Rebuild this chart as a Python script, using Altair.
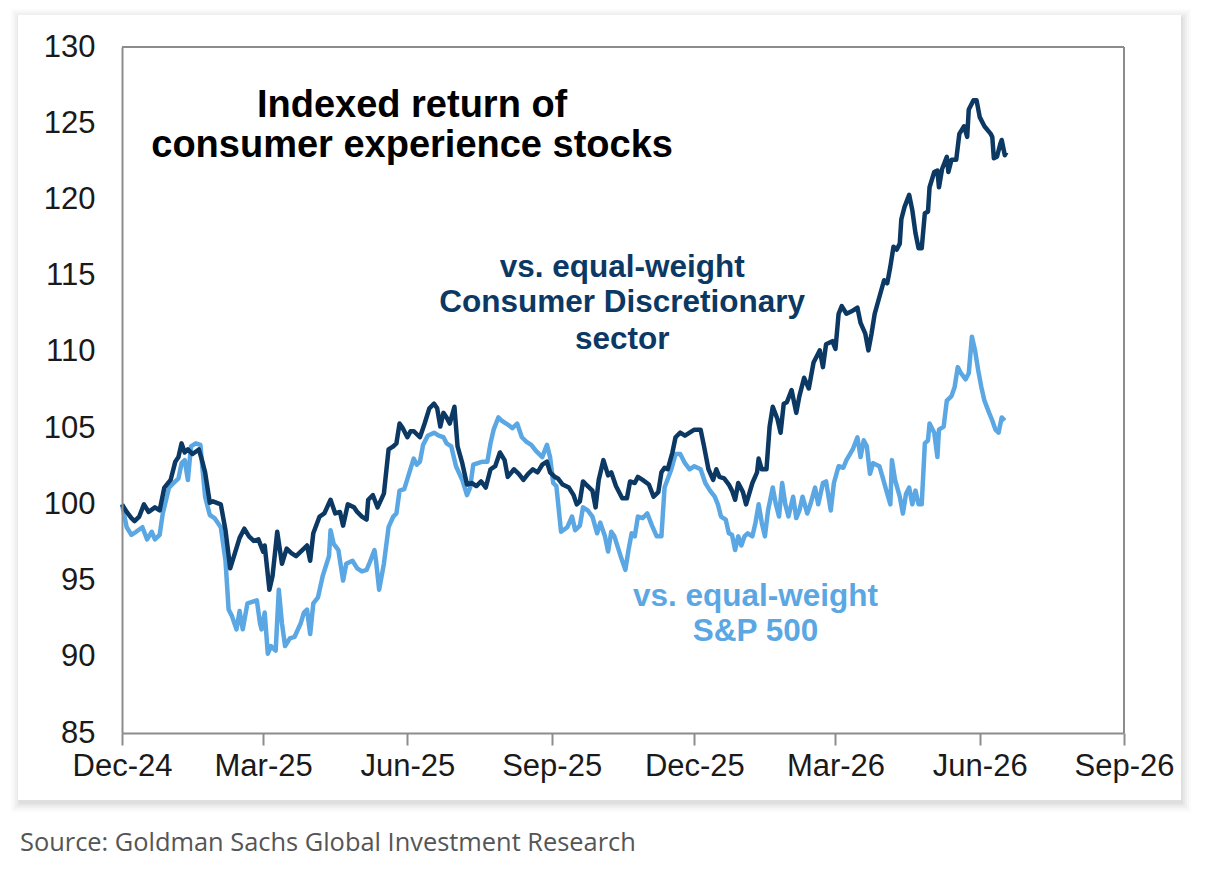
import altair as alt
import pandas as pd

# ---- data (days since 2024-12-01, index value) ----
dark_days = [0,3,6,8,11,14,17,21,24,27,31,34,36,38,40,42,45,49,51,53,56,58,63,66,69,72,75,78,81,84,
             87,90,91,94,96,99,102,105,108,111,115,118,120,122,126,129,133,136,139,141,144,148,150,153,156,157,160,163,167,170,
             173,175,177,179,182,184,186,190,193,196,199,201,203,205,207,209,212,214,217,220,223,226,229,232,235,238,241,244,246,250,
             253,256,259,262,265,268,271,273,276,278,281,285,288,290,292,294,296,300,302,304,307,310,312,315,319,322,324,327,329,332,
             336,339,342,344,346,348,351,353,356,359,362,365,369,371,374,377,379,381,384,387,389,391,393,396,398,402,405,406,408,411,
             413,415,418,420,422,424,427,430,432,435,438,441,443,445,447,449,453,455,457,459,462,466,469,471,474,476,478,480,483,486,
             488,490,492,494,496,497,499,502,504,506,508,510,512,514,515,518,520,521,523,526,527,529,532,534,537,539,540,543,545,547,
             550,554,555,556,558,560,561,563,564]
dark_vals = [100.0,99.5,99.1,98.9,99.2,100.0,99.5,99.8,99.6,101.1,101.6,102.8,103.1,104.0,103.4,103.6,103.3,103.6,102.9,102.1,100.1,100.2,100.0,98.3,95.8,96.8,97.8,98.4,97.9,97.6,
             97.7,96.9,97.3,94.4,95.3,98.2,96.1,97.1,96.8,96.6,97.0,97.3,96.3,98.1,99.2,99.4,100.3,99.4,99.5,98.6,100.0,99.8,99.5,99.2,99.0,100.3,100.6,99.8,100.7,103.6,
             103.8,104.0,105.3,105.0,104.4,104.8,104.8,104.4,105.3,106.3,106.6,106.3,105.1,106.0,105.7,105.3,106.4,103.8,102.7,101.3,101.4,101.2,101.5,101.1,102.3,102.5,103.4,102.9,101.8,102.3,
             102.0,101.6,102.0,102.3,102.1,102.6,102.8,102.1,101.8,101.7,101.3,101.1,100.6,100.0,100.2,101.5,101.3,100.9,99.8,101.6,102.9,101.9,102.1,101.2,100.4,100.4,101.5,101.4,101.8,101.6,
             101.3,100.5,100.8,102.1,102.4,102.3,103.4,104.4,104.7,104.5,104.7,104.9,104.9,103.9,102.3,101.6,102.3,101.8,101.7,101.3,100.9,100.3,101.4,100.8,100.0,101.4,102.1,103.0,102.3,102.3,
             105.1,106.4,105.6,104.7,106.6,106.7,107.5,106.0,107.1,108.3,107.6,109.3,109.7,110.1,109.0,110.5,110.7,110.2,112.5,113.0,112.5,112.7,112.9,111.9,111.2,110.1,111.2,112.5,113.6,114.7,
             114.5,115.6,116.9,116.7,117.1,118.7,119.5,120.3,119.3,117.8,116.8,116.8,119.1,119.2,120.8,121.8,121.9,120.8,122.0,122.8,121.8,122.6,122.6,124.3,124.8,124.1,125.9,126.5,126.5,125.4,
             124.8,124.3,124.1,122.7,122.8,123.6,123.9,122.9,123.1]

light_days = [0,3,6,9,13,16,19,21,24,26,30,33,36,38,40,42,44,47,50,51,53,56,59,63,66,68,70,73,75,77,
              80,83,86,88,89,91,93,95,98,100,102,104,107,110,114,116,118,120,122,125,128,132,133,135,138,141,143,147,150,153,
              156,158,161,162,164,167,170,173,175,177,180,183,186,188,190,192,195,199,202,205,207,210,213,217,220,222,224,227,230,233,
              235,237,240,242,245,249,252,255,258,261,264,268,271,273,275,277,280,284,287,289,292,294,297,300,303,305,308,310,312,314,
              318,321,323,325,327,329,332,335,338,341,344,346,350,353,356,359,362,365,369,372,375,378,380,382,385,387,389,391,393,395,
              397,399,402,404,406,408,410,412,415,417,419,421,423,425,428,430,432,434,437,439,442,444,447,449,452,454,457,460,462,466,
              469,471,473,475,477,479,483,485,488,490,491,493,496,498,500,502,504,506,508,510,512,514,515,518,520,521,524,526,529,531,
              533,535,538,540,542,544,546,548,550,553,555,557,559,561,563]
light_vals = [100.0,98.5,98.0,98.2,98.5,97.7,98.2,97.7,98.0,99.4,101.1,101.4,101.7,102.7,102.9,101.6,103.8,104.0,103.9,102.7,100.5,99.3,99.1,98.5,96.3,93.1,92.7,91.8,93.0,91.8,
              93.5,93.6,93.7,92.2,91.8,92.9,90.2,90.7,90.4,94.4,92.2,90.7,91.2,91.3,92.2,92.9,93.1,91.5,93.5,93.9,95.3,96.6,98.3,97.4,97.0,95.0,96.1,96.3,95.8,95.6,
              95.7,96.2,97.0,96.3,94.4,96.1,98.5,99.2,99.4,100.9,101.0,102.0,103.0,102.6,102.8,103.9,104.5,104.7,104.5,104.4,104.0,103.8,102.5,101.6,100.6,101.1,102.6,102.7,102.8,102.8,
              104.0,104.9,105.7,105.5,105.3,105.0,105.3,104.4,104.1,103.9,103.5,103.1,103.9,103.1,101.4,101.2,98.2,98.5,99.2,98.3,98.6,99.8,99.6,99.2,98.1,98.8,97.9,96.9,98.2,97.9,
              96.6,95.7,97.0,98.1,97.9,99.2,99.1,99.4,98.6,97.9,97.9,101.1,102.2,103.3,103.3,102.7,102.3,102.5,102.3,101.4,100.9,100.5,100.0,99.2,99.0,98.1,98.0,97.0,97.9,97.3,
              97.9,98.1,97.9,98.8,100.0,98.8,97.9,99.6,101.1,100.0,99.2,101.4,100.0,99.2,100.5,99.1,99.6,100.5,99.4,100.0,101.1,100.0,101.4,101.5,99.6,101.4,102.5,102.4,102.9,103.6,
              104.4,103.1,104.2,103.8,102.0,102.7,102.5,101.8,100.7,100.0,102.9,101.6,100.5,99.4,100.7,101.1,100.0,100.9,100.0,100.0,104.0,104.2,105.3,104.7,103.1,104.9,105.1,106.8,107.1,107.7,
              109.0,108.6,108.2,108.6,111.0,110.1,108.8,107.7,106.8,106.0,105.5,104.9,104.7,105.7,105.5]

assert len(dark_days) == len(dark_vals)
assert len(light_days) == len(light_vals)

title_lines = ["Indexed return of", "consumer experience stocks"]
dark_label_lines = ["vs. equal-weight", "Consumer Discretionary", "sector"]
light_label_lines = ["vs. equal-weight", "S&P 500"]
source_text = "Source: Goldman Sachs Global Investment Research"
tick_dates = [(2024, 12), (2025, 3), (2025, 6), (2025, 9), (2025, 12), (2026, 3), (2026, 6), (2026, 9)]

DARK = "#0c3864"
LIGHT = "#5aa7e3"
GRID = "#8c8c8c"
FONT = "Liberation Sans, Arial, sans-serif"

start = pd.Timestamp("2024-12-01")


def to_dates(days):
    return [(start + pd.Timedelta(days=d)).strftime("%Y-%m-%dT00:00:00") for d in days]


dark_df = pd.DataFrame({"date": to_dates(dark_days), "value": dark_vals})
light_df = pd.DataFrame({"date": to_dates(light_days), "value": light_vals})

title_df = pd.DataFrame({"date": to_dates([185.6, 185.6]), "value": [125.41, 122.78], "text": title_lines})
dark_lab_df = pd.DataFrame({"date": to_dates([319, 319, 319]), "value": [114.93, 112.63, 110.2], "text": dark_label_lines})
light_lab_df = pd.DataFrame({"date": to_dates([404, 404]), "value": [93.33, 91.03], "text": light_label_lines})

x_scale = alt.Scale(domain=[alt.DateTime(year=2024, month=12, date=1), alt.DateTime(year=2026, month=9, date=1)])
y_scale = alt.Scale(domain=[85, 130], nice=False, zero=False)

x_axis = alt.Axis(
    values=[alt.DateTime(year=y, month=m, date=1) for y, m in tick_dates],
    format="%b-%y", title=None, grid=False, zindex=2,
    domainColor=GRID, domainWidth=2, tickColor=GRID, tickWidth=2, tickSize=12,
    labelFont=FONT, labelFontSize=31, labelColor="#1a1a1a", labelPadding=6,
    labelOverlap=False, labelFlush=False, labelBound=False,
)
y_axis = alt.Axis(
    values=list(range(85, 131, 5)), title=None, grid=False, ticks=False, tickSize=0, zindex=2,
    domainColor=GRID, domainWidth=2,
    labelFont=FONT, labelFontSize=31, labelColor="#1a1a1a", labelPadding=27,
)

one = pd.DataFrame({"k": [0]})

# card shadow + card (decoration)
shadows = []
for i, op in enumerate([0.035, 0.03, 0.025, 0.02, 0.015]):
    g = i * 2
    shadows.append(
        alt.Chart(one).mark_rect(color="#000000", opacity=op).encode(
            x=alt.value(-104 - g + 1), x2=alt.value(1059 + g + 2),
            y=alt.value(-32 - g + 2), y2=alt.value(753 + g + 4),
        )
    )
card = alt.Chart(one).mark_rect(color="#ffffff").encode(
    x=alt.value(-104), x2=alt.value(1059), y=alt.value(-32), y2=alt.value(753)
)

# plot frame: top and right borders
frame_top = alt.Chart(one).mark_rule(color=GRID, strokeWidth=2).encode(
    x=alt.value(0), x2=alt.value(1002), y=alt.value(0)
)
frame_right = alt.Chart(one).mark_rule(color=GRID, strokeWidth=2).encode(
    x=alt.value(1002), y=alt.value(0), y2=alt.value(686)
)

base_x = alt.X("date:T", scale=x_scale, axis=x_axis)
base_y = alt.Y("value:Q", scale=y_scale, axis=y_axis)

light_line = alt.Chart(light_df).mark_line(color=LIGHT, strokeWidth=4.5, strokeJoin="round").encode(
    x=base_x, y=base_y
)
dark_line = alt.Chart(dark_df).mark_line(color=DARK, strokeWidth=4.5, strokeJoin="round").encode(
    x="date:T", y="value:Q"
)

title_txt = alt.Chart(title_df).mark_text(
    font=FONT, fontSize=38, fontWeight="bold", color="#000000", align="center", baseline="alphabetic"
).encode(x="date:T", y="value:Q", text="text:N")

dark_txt = alt.Chart(dark_lab_df).mark_text(
    font=FONT, fontSize=31.5, fontWeight="bold", color=DARK, align="center", baseline="alphabetic"
).encode(x="date:T", y="value:Q", text="text:N")

light_txt = alt.Chart(light_lab_df).mark_text(
    font=FONT, fontSize=31.5, fontWeight="bold", color=LIGHT, align="center", baseline="alphabetic"
).encode(x="date:T", y="value:Q", text="text:N")

source = alt.Chart(pd.DataFrame({"text": [source_text]})).mark_text(
    font="Open Sans, Noto Sans, sans-serif", fontSize=25.4, color="#555555", align="left", baseline="middle"
).encode(x=alt.value(-102), y=alt.value(796), text="text:N")

chart = alt.layer(
    *shadows, card, frame_top, frame_right, light_line, dark_line, title_txt, dark_txt, light_txt, source
).properties(
    width=1002, height=686,
    padding={"left": 122, "top": 47, "right": 108, "bottom": 141},
    autosize=alt.AutoSizeParams(type="none"),
    background="#ffffff",
).configure_view(stroke=None)

chart.save("out.html", embed_options={"renderer": "svg", "actions": False})
